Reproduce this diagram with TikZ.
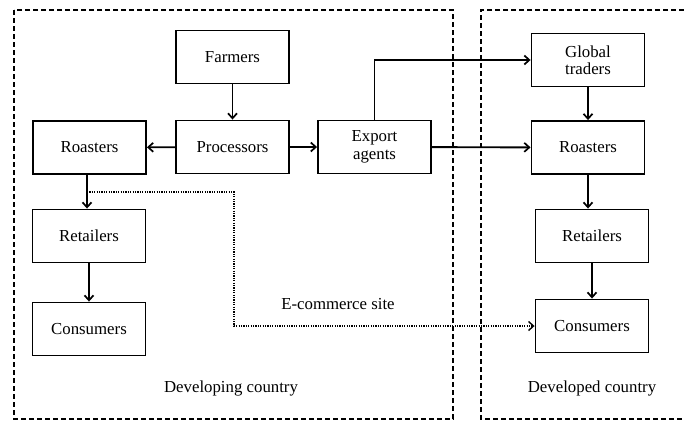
\documentclass[tikz,border=0pt]{standalone}
\usepackage{fontspec}
\setmainfont{Liberation Serif}
\usetikzlibrary{arrows.meta}
\begin{document}
\begin{tikzpicture}[x=1pt,y=-1pt,
  box/.style={draw,line width=1.9pt,minimum width=113pt,minimum height=53pt,inner sep=0pt,align=center,font=\fontsize{16.8}{17.5}\selectfont},
  conn/.style={line width=1.9pt,-{Straight Barb[length=5pt,width=9pt,line width=1.7pt]}},
  region/.style={line width=1.5pt,dash pattern=on 5pt off 3pt},
  dot/.style={line width=1.6pt,dash pattern=on 1.2pt off 1.2pt},
  lab/.style={font=\fontsize{16.8}{17.5}\selectfont}]
\useasboundingbox (0,0) rectangle (684,421);
\draw[region] (14,10) rectangle (453,419);
\draw[region] (700,10) -- (481,10) -- (481,419) -- (700,419);
\node[box] (farm) at (232.5,57) {Farmers};
\node[box] (proc) at (232.5,147) {Processors};
\node[box] (roastL) at (89.5,147.5) {Roasters};
\node[box] (exp) at (374.5,147) {Export\\agents};
\node[box] (glob) at (588,60) {Global\\traders};
\node[box] (roastR) at (588,147.5) {Roasters};
\node[box] (retL) at (89,236) {Retailers};
\node[box] (conL) at (89,329) {Consumers};
\node[box] (retR) at (592,236) {Retailers};
\node[box] (conR) at (592,326) {Consumers};
\node[lab] (ecom) at (338,304) {E-commerce site};
\node[lab] (devg) at (231,388) {Developing country};
\node[lab] (devd) at (592,388) {Developed country};
\coordinate (d0) at (87,192);
\coordinate (d1) at (234,192);
\coordinate (d2) at (234,326);
\draw[conn] (farm) -- (proc);
\draw[conn] (proc) -- (roastL);
\draw[conn] (proc) -- (exp);
\draw[conn] (exp) -- (roastR);
\draw[conn] (exp.north) |- (glob.west);
\draw[conn] (glob) -- (roastR);
\draw[conn] (roastR.south) -- (roastR.south |- retR.north);
\draw[conn] (retR) -- (conR);
\draw[conn] (roastL.south -| d0) -- (retL.north -| d0);
\draw[conn] (retL) -- (conL);
\draw[dot,-{Straight Barb[length=5pt,width=9pt,line width=1.4pt]}] (d0) -- (d1) -- (d2) -- (conR.west);
\end{tikzpicture}
\end{document}
